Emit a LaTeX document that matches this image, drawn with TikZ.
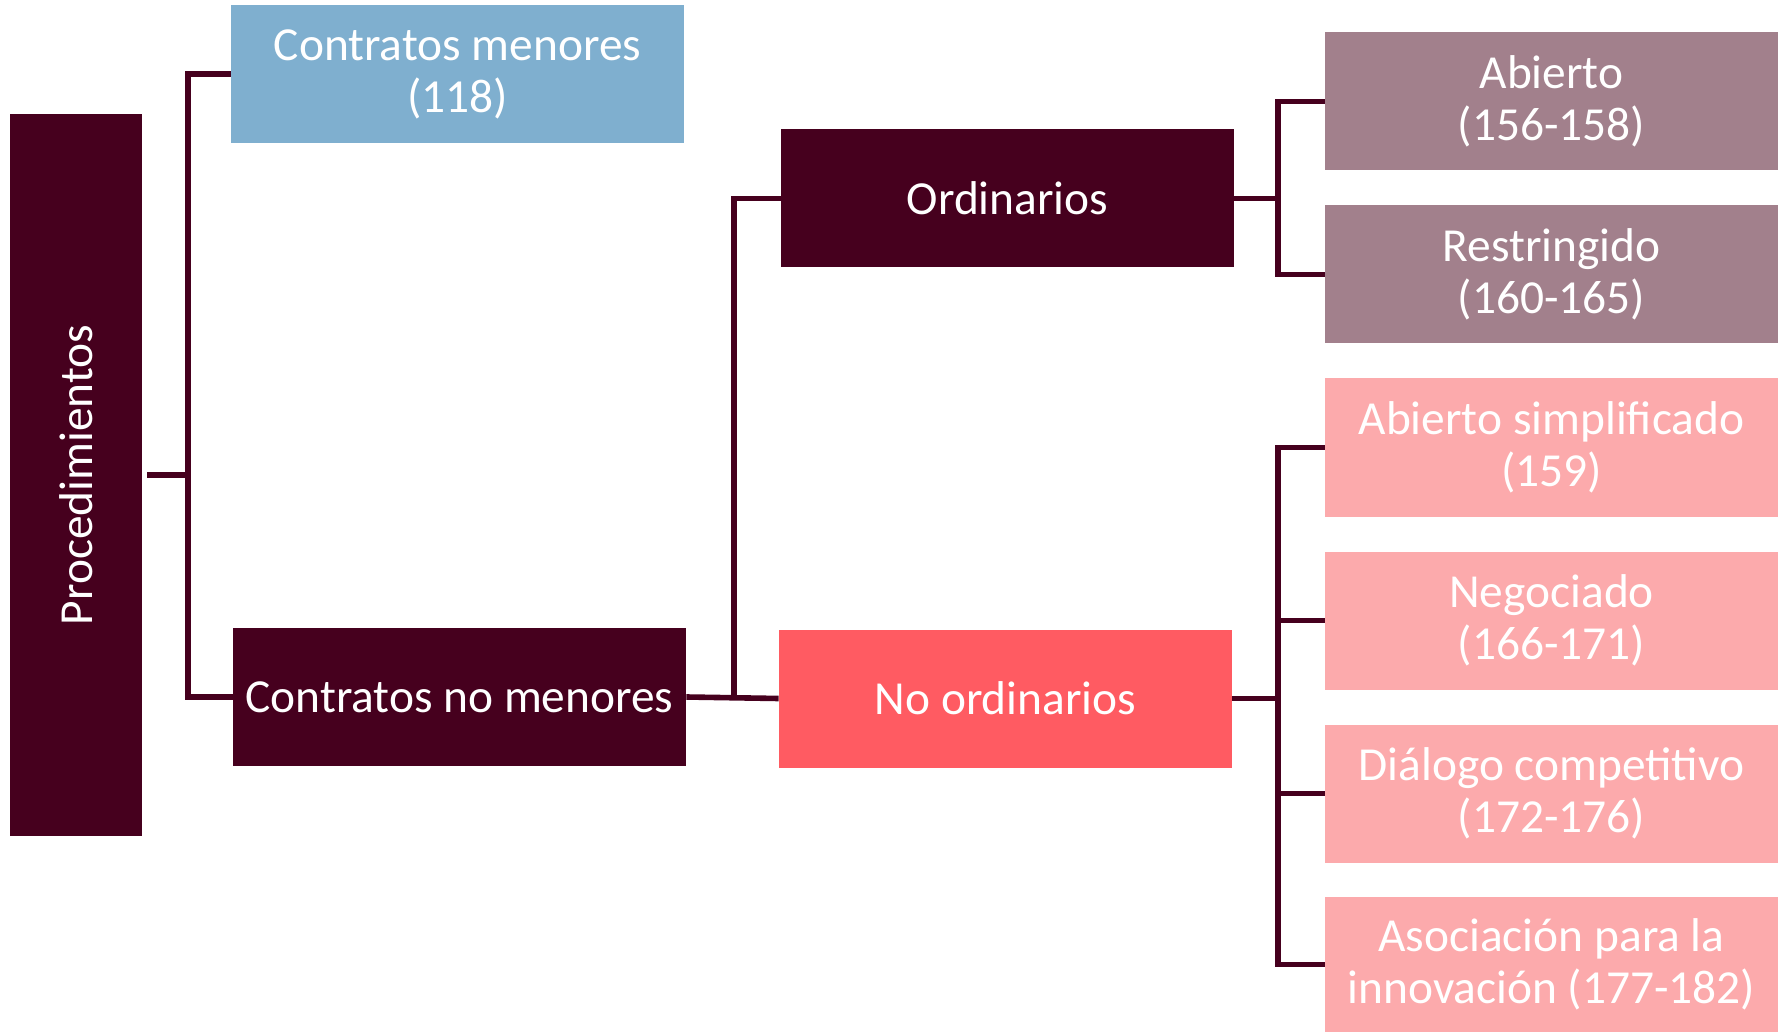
\documentclass[tikz,border=0pt]{standalone}
\usepackage{fontspec}
\setmainfont{Carlito}
\usepackage{tikz}
\usetikzlibrary{positioning}

\definecolor{granate}{HTML}{46001E}
\definecolor{azul}{HTML}{7FAFCF}
\definecolor{malva}{HTML}{A2808C}
\definecolor{coral}{HTML}{FF5B62}
\definecolor{rosa}{HTML}{FCAAAC}

\begin{document}
\begin{tikzpicture}[
    x=0.5pt, y=-0.5pt,
    every node/.style={rectangle, inner sep=2pt, text=white, align=center,
        font=\fontsize{23.7}{26}\selectfont},
    caja/.style={minimum width=226.5pt, minimum height=69pt},
    rama/.style={draw=granate, line width=2.8pt}
]
    \useasboundingbox (0,0) rectangle (1785,1032);

    % Nodes
    \node[fill=granate, rotate=90, minimum width=361pt, minimum height=66pt] (proc) at (76,475) {Procedimientos};
    \node[caja, fill=azul] (menores) at (457.5,74) {Contratos menores\\(118)};
    \node[caja, fill=granate] (nomenores) at (459.5,697) {Contratos no menores};
    \node[caja, fill=granate] (ord) at (1007.5,198.5) {Ordinarios};
    \node[caja, fill=coral] (noord) at (1005.5,698.5) {No ordinarios};
    \node[caja, fill=malva] (abierto) at (1551.5,101.5) {Abierto\\(156-158)};
    \node[caja, fill=malva] (restr) at (1551.5,274.5) {Restringido\\(160-165)};
    \node[caja, fill=rosa] (absimp) at (1551.5,447.5) {Abierto simplificado\\(159)};
    \node[caja, fill=rosa] (neg) at (1551.5,620.5) {Negociado\\(166-171)};
    \node[caja, fill=rosa] (dial) at (1551.5,793.5) {Diálogo competitivo\\(172-176)};
    \node[caja, fill=rosa, minimum height=67.5pt] (asoc) at (1551.5,964.5) {Asociación para la\\innovación (177-182)};

    % Junctions
    \coordinate (j1) at (188,475);
    \coordinate (j2) at (734,697);
    \coordinate (j3) at (1278,198.5);
    \coordinate (j4) at (1278,698.5);

    % Edges
    \draw[rama, shorten <=2.5pt] (proc.south) -- (j1);
    \draw[rama] (j1) |- (menores.west);
    \draw[rama] (j1) |- (nomenores.west);
    \draw[rama] (nomenores.east) -- (noord.west);
    \draw[rama] (j2) |- (ord.west);
    \draw[rama] (ord.east) -- (j3);
    \draw[rama] (j3) |- (abierto.west);
    \draw[rama] (j3) |- (restr.west);
    \draw[rama] (noord.east) -- (j4);
    \draw[rama] (j4) |- (absimp.west);
    \draw[rama] (j4) |- (neg.west);
    \draw[rama] (j4) |- (dial.west);
    \draw[rama] (j4) |- (asoc.west);
\end{tikzpicture}
\end{document}
